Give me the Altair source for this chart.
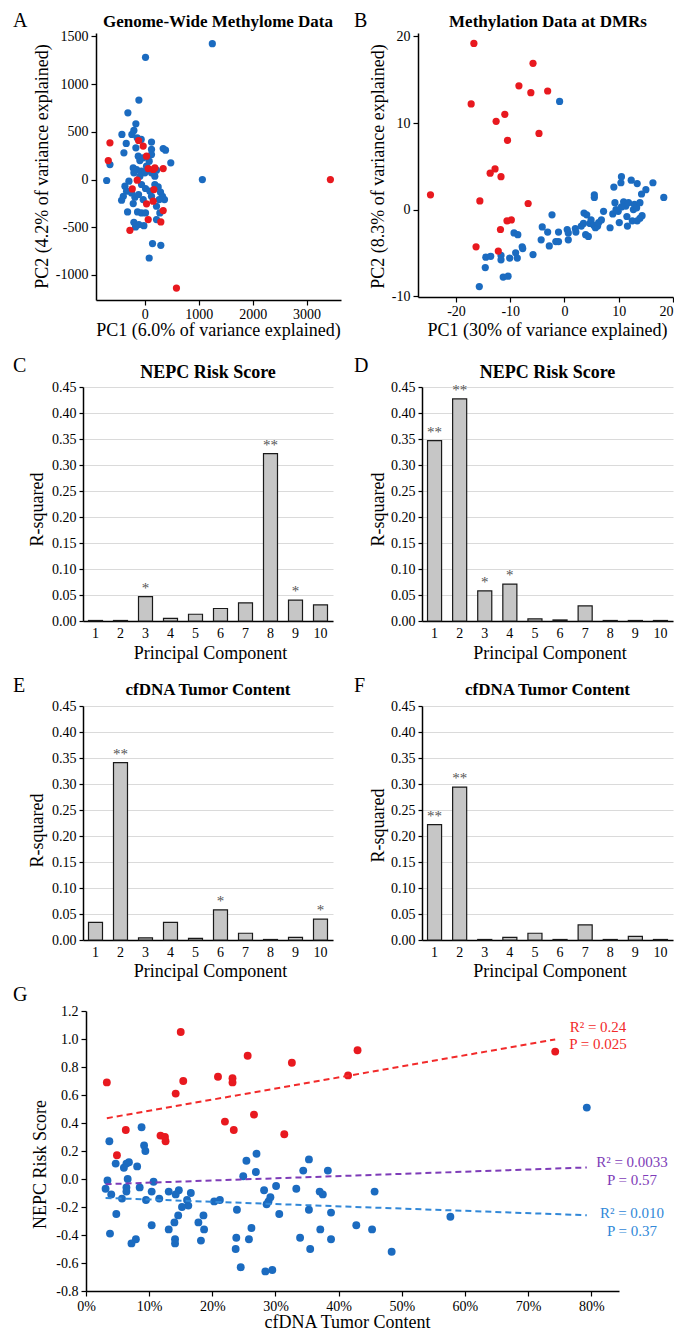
import altair as alt
import pandas as pd

SERIF = "Liberation Serif"
RED = "#E8191F"
BLUE = "#1B6BC0"
RED_LINE = "#F22A2A"
PURPLE = "#7E3CB8"
BLUE_LINE = "#3188D8"
BAR_FILL = "#C6C6C6"
STAR = "#555555"
MINUS_FIX = "replace(datum.label, '\u2212', '-')"

# ---------------- Panel A : genome-wide methylome PCA ----------------
A_BLUE_X = [1252, 12, -111, -315, -426, -346, -389, -709, -648, -167, -204, -241, -142, -68, 123, 123, 123, -167, -123, 340,
            383, 481, -216, -154, -62, 0, -204, 31, 80, 185, 1067, -370, -340, -400, -432, -247, -185, -117, -62, 12,
            93, 123, -31, -216, -321, -136, -62, 12, -204, -111, -18, -173, 247, 290, 327, 364, 321, 265, 216, 278,
            216, 142, 296, 80, 185, 123, 216, -93, -31, -296, -93]
A_BLUE_Y = [1423, 1280, 832, 699, 472, 378, 280, -10, 157, 584, 514, 472, 437, 420, 392, 315, 262, 332, 245, 325,
            308, 175, 122, 105, 87, 70, 70, 140, 192, 35, 0, -70, -122, -175, -217, -140, -185, -157, -52, -94,
            -122, -175, -210, -252, -339, -339, -350, -350, -448, -472, -483, -497, -77, -133, -175, -210, -192, -210, -280, -350,
            -420, -671, -689, -822, -52, 70, 98, 199, 227, -17, 35]
A_RED_X = [-648, -679, -278, -234, -142, -117, -31, 31, 31, 62, 154, 167, 154, 62, 185, 340, 340, 296, 586, 3443]
A_RED_Y = [385, 199, -532, -98, -7, 409, 350, 245, -255, 115, 105, -105, -227, -420, 122, 115, -325, -444, -1137, 0]
A_X_TICKS = [0, 1000, 2000, 3000]
A_Y_TICKS = [-1000, -500, 0, 500, 1000, 1500]

# ---------------- Panel B : methylation at DMRs PCA ----------------
B_BLUE_X = [-0.9, -15.7, -14.6, -14.5, -13.6, -11.7, -11.7, -11.3, -10.4, -10.1, -9.0, -8.7, -7.8, -7.7, -9.3, -8.6, -5.8, -4.3, -4.1, -3.1,
            -2.8, -2.3, -1.6, -1.1, -1.1, 0.5, 0.7, 0.7, 2.0, 2.1, 3.1, 3.5, 3.6, 4.1, 3.9, 4.4, 4.7, 4.9, 5.5, 5.5,
            5.4, 5.7, 6.1, 6.3, 6.8, 7.2, 8.4, 8.9, 9.1, 9.3, 9.9, 10.1, 10.5, 10.4, 10.9, 11.3, 11.5, 11.6, 11.8, 12.3,
            12.5, 12.7, 12.9, 13.4, 13.3, 13.4, 13.9, 14.2, 14.3, 15.0, 16.3, 18.3, 10.5, 9.5, 13.9]
B_BLUE_Y = [12.5, -8.9, -6.7, -5.5, -5.4, -5.3, -5.8, -7.8, -7.7, -5.6, -5.0, -5.6, -4.3, -4.5, -2.7, -2.9, -5.2, -3.5, -2.0, -2.6,
            -4.2, -0.6, -3.7, -2.6, -3.7, -2.3, -2.7, -3.5, -2.2, -2.6, -1.9, -1.6, -0.4, -0.6, -2.9, -3.1, -1.6, -1.2, 1.7, 1.4,
            -1.8, -2.1, -1.9, -1.5, -1.2, -0.2, -2.1, -0.5, 2.6, 0.8, -0.2, -1.5, 3.8, 3.1, 0.9, 0.4, -0.8, -1.9, 0.8, 3.4,
            -1.3, 0.0, 0.6, 3.0, 0.2, -1.3, 0.8, 1.8, -0.7, 2.3, 3.1, 1.4, 0.3, 0.0, -1.0]
B_RED_X = [-16.7, -5.8, -8.4, -6.2, -3.1, -17.2, -11.0, -12.6, -10.5, -4.7, -12.8, -13.7, -11.7, -24.7, -15.6, -6.7, -9.8, -10.6, -11.8, -16.3, -12.2]
B_RED_Y = [19.2, 16.9, 14.3, 13.5, 13.7, 12.2, 11.0, 10.2, 8.0, 8.8, 4.7, 4.2, 3.8, 1.7, 1.0, 0.7, -1.2, -1.3, -2.3, -4.3, -4.8]
B_X_TICKS = [-20, -10, 0, 10, 20]
B_Y_TICKS = [-10, 0, 10, 20]

# ---------------- Panels C-F : R-squared per principal component ----------------
PCS = list(range(1, 11))
C_R2 = [0.001, 0.001, 0.047, 0.005, 0.013, 0.024, 0.035, 0.322, 0.040, 0.031]
C_SIG = ["", "", "*", "", "", "", "", "**", "*", ""]
D_R2 = [0.347, 0.427, 0.058, 0.071, 0.004, 0.002, 0.029, 0.001, 0.001, 0.001]
D_SIG = ["**", "**", "*", "*", "", "", "", "", "", ""]
E_R2 = [0.034, 0.341, 0.004, 0.034, 0.003, 0.058, 0.013, 0.001, 0.005, 0.040]
E_SIG = ["", "**", "", "", "", "*", "", "", "", "*"]
F_R2 = [0.222, 0.294, 0.001, 0.005, 0.013, 0.001, 0.029, 0.001, 0.007, 0.001]
F_SIG = ["**", "**", "", "", "", "", "", "", "", ""]
R2_TICKS = [0.0, 0.05, 0.10, 0.15, 0.20, 0.25, 0.30, 0.35, 0.40, 0.45]

# ---------------- Panel G : NEPC risk score vs cfDNA tumor content ----------------
G_RED_TC = [0.033, 0.063, 0.049, 0.150, 0.142, 0.154, 0.118, 0.125, 0.126, 0.209, 0.232, 0.232, 0.220, 0.234,
            0.256, 0.266, 0.326, 0.314, 0.415, 0.430, 0.743]
G_RED_SCORE = [0.69, 0.35, 0.17, 1.05, 0.61, 0.70, 0.31, 0.30, 0.27, 0.73, 0.72, 0.69, 0.41, 0.35,
               0.88, 0.46, 0.83, 0.32, 0.74, 0.92, 0.91]
G_BLUE_TC = [0.793, 0.577, 0.484, 0.457, 0.453, 0.428, 0.388, 0.388, 0.383, 0.375, 0.370, 0.371, 0.353, 0.344, 0.353, 0.355,
             0.339, 0.333, 0.301, 0.306, 0.295, 0.284, 0.292, 0.289, 0.286, 0.282, 0.262, 0.258, 0.270, 0.269, 0.254, 0.249,
             0.245, 0.239, 0.238, 0.237, 0.212, 0.203, 0.186, 0.187, 0.182, 0.178, 0.166, 0.162, 0.160, 0.152, 0.147, 0.142,
             0.146, 0.140, 0.141, 0.141, 0.131, 0.131, 0.116, 0.107, 0.104, 0.104, 0.095, 0.094, 0.092, 0.088, 0.085, 0.081,
             0.079, 0.072, 0.068, 0.064, 0.060, 0.066, 0.064, 0.064, 0.057, 0.047, 0.048, 0.040, 0.038, 0.037, 0.034, 0.031]
G_BLUE_SCORE = [0.51, -0.27, -0.52, -0.09, -0.36, -0.33, -0.24, -0.43, 0.06, -0.11, -0.09, -0.36, 0.14, 0.06, -0.22, -0.50,
                -0.42, -0.07, -0.05, -0.25, -0.65, -0.66, -0.13, -0.16, -0.18, -0.08, -0.35, -0.43, 0.18, 0.05, 0.13, 0.02,
                -0.63, -0.22, -0.42, -0.50, -0.15, -0.16, -0.26, -0.36, -0.44, -0.31, -0.10, -0.19, -0.15, -0.20, -0.08, -0.11,
                -0.26, -0.31, -0.43, -0.46, -0.36, -0.09, -0.14, -0.02, -0.09, -0.33, -0.15, 0.20, 0.24, 0.37, -0.06, 0.09,
                -0.43, -0.46, 0.12, 0.11, 0.08, 0.00, -0.06, -0.09, -0.14, 0.11, -0.25, -0.11, -0.39, 0.27, -0.01, -0.07]
G_X_TICKS = [0.0, 0.1, 0.2, 0.3, 0.4, 0.5, 0.6, 0.7, 0.8]
G_Y_TICKS = [-0.8, -0.6, -0.4, -0.2, 0.0, 0.2, 0.4, 0.6, 0.8, 1.0, 1.2]
G_STATS = {"red": ("R\u00b2 = 0.24", "P = 0.025"),
           "purple": ("R\u00b2 = 0.0033", "P = 0.57"),
           "blue": ("R\u00b2 = 0.010", "P = 0.37")}

GROUPS = ["NEPC", "non-NEPC"]
COLOR = alt.Color("group:N", scale=alt.Scale(domain=GROUPS, range=[RED, BLUE]), legend=None)

AXIS = dict(labelFont=SERIF, labelFontSize=14, labelColor="black", titleFont=SERIF, titleFontSize=18,
            titleFontWeight="normal", titleColor="black", domainColor="black", domainWidth=1.5,
            tickColor="black", tickWidth=1.2, titleAlign="center",
            titleBaseline="middle", labelOverlap=False)


def one_row():
    return pd.DataFrame({"t": [""]})


def letter(t, x, y):
    return alt.Chart(pd.DataFrame({"t": [t]})).mark_text(
        align="left", baseline="top", fontSize=20, font=SERIF, color="black"
    ).encode(text="t:N", x=alt.value(x), y=alt.value(y))


def panel_title(t, x, y, size=17):
    return alt.Chart(pd.DataFrame({"t": [t]})).mark_text(
        align="center", baseline="middle", fontSize=size, font=SERIF, fontWeight="bold", color="black"
    ).encode(text="t:N", x=alt.value(x), y=alt.value(y))


def note(t, x, y, color):
    return alt.Chart(pd.DataFrame({"t": [t]})).mark_text(
        align="center", baseline="middle", fontSize=15, font=SERIF, color=color
    ).encode(text="t:N", x=alt.value(x), y=alt.value(y))


def anchor(x, y):
    # tiny white rule (invisible on the white page) that fixes the panel's layout box
    return alt.Chart(one_row()).mark_rule(color="white", strokeWidth=1, opacity=1).encode(
        x=alt.value(x), x2=alt.value(x + 1), y=alt.value(y), y2=alt.value(y))


def spacer():
    return alt.Chart(one_row()).mark_point(size=0, opacity=0).properties(width=1, height=1)


def scatter_panel(bx, by, rx, ry, xdom, ydom, xticks, yticks, xtitle, ytitle, w, h,
                  title, tx, ty, let, lx, ly, ytx, yty, xtx, xty, right=None, bottom=None, flush=False):
    df = pd.DataFrame({"pc1": bx + rx, "pc2": by + ry,
                       "group": ["non-NEPC"] * len(bx) + ["NEPC"] * len(rx)})
    pts = alt.Chart(df).mark_circle(size=52, opacity=1).encode(
        x=alt.X("pc1:Q", scale=alt.Scale(domain=xdom, nice=False, zero=False),
                axis=alt.Axis(values=xticks, format="d", labelExpr=MINUS_FIX, title=xtitle,
                              titleX=xtx, titleY=xty, tickSize=5, labelPadding=2, grid=False,
                              labelFlush=flush, **AXIS)),
        y=alt.Y("pc2:Q", scale=alt.Scale(domain=ydom, nice=False, zero=False),
                axis=alt.Axis(values=yticks, format="d", labelExpr=MINUS_FIX, title=ytitle,
                              titleX=ytx, titleY=yty, tickSize=5, labelPadding=3, grid=False,
                              labelFlush=False, **AXIS)),
        color=COLOR,
    )
    layers = [pts, panel_title(title, tx, ty), letter(let, lx, ly)]
    if right is not None:
        layers.append(anchor(right, 100))
    if bottom is not None:
        layers.append(anchor(100, bottom))
    return alt.layer(*layers).properties(width=w, height=h)


def bar_panel(r2, sig, w, h, title, ty, let, lx, ly, ytx, yty, xty, right=None, bottom=None):
    df = pd.DataFrame({"pc": PCS, "r2": r2, "sig": sig})
    base = alt.Chart(df)
    xenc = alt.X("pc:O", scale=alt.Scale(paddingInner=0.44, paddingOuter=0.22),
                 axis=alt.Axis(title="Principal Component", labelAngle=0, ticks=False, grid=False,
                               titleX=w / 2 + 2, titleY=xty, labelPadding=5, **AXIS))
    yenc = alt.Y("r2:Q", scale=alt.Scale(domain=[0, 0.45], nice=False),
                 axis=alt.Axis(values=R2_TICKS, format=".2f", title="R-squared",
                               titleX=ytx, titleY=yty, tickSize=4, labelPadding=3, labelFlush=False,
                               grid=True, gridColor="#DADADA", gridWidth=1, **AXIS))
    bars = base.mark_bar(color=BAR_FILL, stroke="#1a1a1a", strokeWidth=1.2).encode(x=xenc, y=yenc)
    stars = base.transform_filter("datum.sig != ''").mark_text(
        fontSize=15, dy=-4, baseline="alphabetic", color=STAR, font=SERIF
    ).encode(x=xenc, y=yenc, text="sig:N")
    layers = [bars, stars, panel_title(title, w / 2, ty, 18 if "NEPC" in title else 17),
              letter(let, lx, ly)]
    if right is not None:
        layers.append(anchor(right, 100))
    if bottom is not None:
        layers.append(anchor(100, bottom))
    return alt.layer(*layers).properties(width=w, height=h)


# ----- build panels (positions relative to each plot area) -----
pA = scatter_panel(A_BLUE_X, A_BLUE_Y, A_RED_X, A_RED_Y, [-907, 3640], [-1262, 1535], A_X_TICKS, A_Y_TICKS,
                   "PC1 (6.0% of variance explained)", "PC2 (4.2% of variance explained)", 245, 267,
                   "Genome-Wide Methylome Data", 122, -11, "A", -83, -22, -54, 133, 122, 30, right=256, bottom=322)
pB = scatter_panel(B_BLUE_X, B_BLUE_Y, B_RED_X, B_RED_Y, [-27, 20], [-10.1, 20.4], B_X_TICKS, B_Y_TICKS,
                   "PC1 (30% of variance explained)", "PC2 (8.3% of variance explained)", 255, 264,
                   "Methylation Data at DMRs", 130, -11, "B", -64, -22, -40, 133, 129, 33, bottom=322, flush=True)

pC = bar_panel(C_R2, C_SIG, 250, 234, "NEPC Risk Score", -14, "C", -70, -31, -46, 122, 32, right=269, bottom=288)
pD = bar_panel(D_R2, D_SIG, 251, 234, "NEPC Risk Score", -14, "D", -68, -31, -44, 122, 32, bottom=288)
pE = bar_panel(E_R2, E_SIG, 250, 234, "cfDNA Tumor Content", -16, "E", -70, -30, -46, 124, 31, right=269, bottom=278)
pF = bar_panel(F_R2, F_SIG, 251, 234, "cfDNA Tumor Content", -16, "F", -68, -30, -44, 119, 31, bottom=278)

dfG = pd.DataFrame({"tc": G_BLUE_TC + G_RED_TC, "score": G_BLUE_SCORE + G_RED_SCORE,
                    "group": ["non-NEPC"] * len(G_BLUE_TC) + ["NEPC"] * len(G_RED_TC)})
GW, GH = 533, 280
gx = alt.X("tc:Q", scale=alt.Scale(domain=[0, 0.844], nice=False),
           axis=alt.Axis(values=G_X_TICKS, format=".0%", title="cfDNA Tumor Content", grid=False,
                         titleX=261, titleY=31, tickSize=5, labelPadding=3, labelFlush=False, **AXIS))
gy = alt.Y("score:Q", scale=alt.Scale(domain=[-0.8, 1.2], nice=False),
           axis=alt.Axis(values=G_Y_TICKS, format=".1f", labelExpr=MINUS_FIX, title="NEPC Risk Score", grid=False,
                         titleX=-46, titleY=153, tickSize=5, labelPadding=3, labelFlush=False, **AXIS))
baseG = alt.Chart(dfG)
gpts = baseG.mark_circle(size=62, opacity=1).encode(x=gx, y=gy, color=COLOR)
dash = dict(strokeDash=[6, 4], strokeWidth=2)
red_fit = baseG.transform_filter(alt.datum.group == "NEPC").transform_regression("tc", "score").mark_line(
    color=RED_LINE, **dash).encode(x=gx, y=gy)
blue_fit = baseG.transform_filter(alt.datum.group == "non-NEPC").transform_regression("tc", "score").mark_line(
    color=BLUE_LINE, **dash).encode(x=gx, y=gy)
all_fit = baseG.transform_regression("tc", "score").mark_line(color=PURPLE, **dash).encode(x=gx, y=gy)

pG = alt.layer(
    gpts, red_fit, all_fit, blue_fit,
    note(G_STATS["red"][0], 512, 16, RED_LINE), note(G_STATS["red"][1], 512, 33, RED_LINE),
    note(G_STATS["purple"][0], 546, 151, PURPLE), note(G_STATS["purple"][1], 546, 169, PURPLE),
    note(G_STATS["blue"][0], 546, 202, BLUE_LINE), note(G_STATS["blue"][1], 546, 220, BLUE_LINE),
    letter("G", -73, -26),
).properties(width=GW, height=GH)

row1 = alt.hconcat(spacer(), pA, pB, spacing=0)
row2 = alt.hconcat(spacer(), pC, pD, spacing=0)
row3 = alt.hconcat(spacer(), pE, pF, spacing=0)
row4 = alt.hconcat(spacer(), pG, spacing=0)

chart = alt.vconcat(row1, row2, row3, row4, spacing=0).properties(
    padding={"left": 4, "top": 3, "right": 0, "bottom": 0}
).configure(font=SERIF).configure_axis(labelOverlap=False).configure_view(stroke=None)

chart.save("out.html", embed_options={"renderer": "svg", "actions": False})
